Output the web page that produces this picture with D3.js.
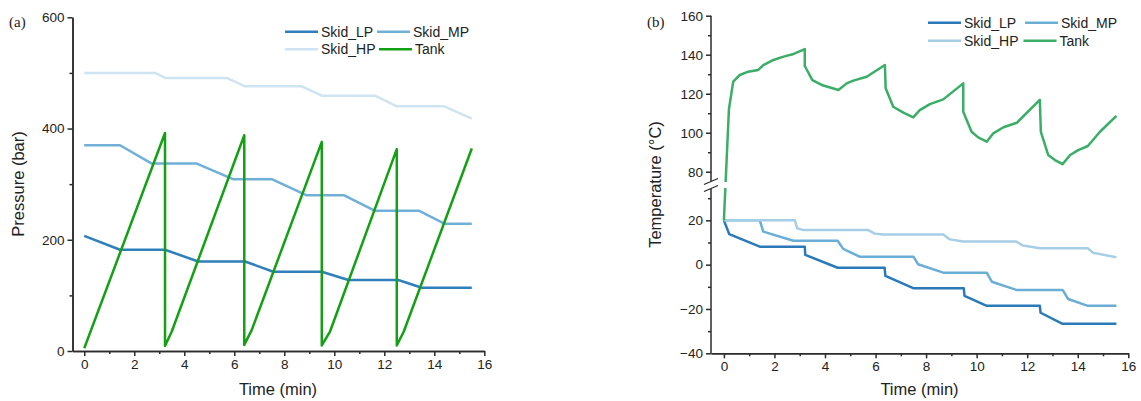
<!DOCTYPE html>
<html><head><meta charset="utf-8">
<script src="https://cdn.jsdelivr.net/npm/d3@7"></script>
<style>
html,body{margin:0;padding:0;background:#fff;}
svg{display:block;font-family:"Liberation Sans",Arial,sans-serif;}
</style></head>
<body>
<svg id="chart" width="1141" height="401"></svg>
<script>
// ---------- Data: panel (a) pressure ----------
const seriesNames = ["Skid_LP", "Skid_MP", "Skid_HP", "Tank"];
const xTicks = [0, 2, 4, 6, 8, 10, 12, 14, 16];
const xMinorTicks = [1, 3, 5, 7, 9, 11, 13, 15];
const pTicks = [0, 200, 400, 600];
const pMinorTicks = [100, 300, 500];
const tTicksUpper = [80, 100, 120, 140, 160];
const tTicksLower = [-40, -20, 0, 20];
const tMinorTicks = [90, 110, 130, 150, -30, -10, 10, 30];

const pLP = [[0,207],[1.43,182],[3.23,182],[4.56,161],[6.43,161],[7.56,142.5],[9.5,142.5],[10.56,127.6],[12.56,127.6],[13.5,113.8],[15.5,113.8]];
const pMP = [[0,370],[1.43,370],[2.7,337],[4.5,337],[5.95,309],[7.5,309],[8.9,280],[10.4,280],[11.63,252],[13.4,252],[14.4,229],[15.5,229]];
const pHP = [[0,500],[2.83,500],[3.24,491],[5.7,491],[6.43,476],[8.7,476],[9.5,459],[11.63,459],[12.5,440],[14.4,440],[15.5,418]];
const pTank = [[0,5],[3.23,392],[3.23,9],[3.5,35],[6.4,388],[6.4,11],[6.7,38],[9.5,376],[9.5,10],[9.83,35],[12.5,363],[12.5,10],[12.78,35],[15.5,364]];

// ---------- Data: panel (b) temperature ----------
const tLP = [[0,20],[0.21,13.8],[1.42,8.1],[3.2,8.1],[3.22,4.4],[4.5,-1.4],[6.36,-1.4],[6.39,-5.1],[7.49,-10.6],[9.49,-10.6],[9.52,-14.1],[10.4,-18.6],[12.5,-18.6],[12.53,-21.7],[13.4,-26.7],[15.53,-26.7]];
const tMP = [[0,20],[1.42,20],[1.56,14.9],[2.75,10.8],[4.5,10.8],[4.72,7.1],[5.37,3.6],[7.5,3.6],[7.68,0.2],[8.68,-3.6],[10.4,-3.6],[10.6,-7.7],[11.57,-11.4],[13.4,-11.4],[13.62,-15.5],[14.4,-18.6],[15.53,-18.6]];
const tHP = [[0,20],[2.81,20],[2.9,16.4],[3.14,15.6],[5.71,15.6],[5.97,14.0],[6.3,13.6],[8.68,13.6],[8.94,11.4],[9.47,10.4],[11.57,10.4],[11.83,8.6],[12.5,7.4],[14.4,7.4],[14.6,5.4],[15.53,3.3]];
const tTank = [[0,20],[0.2,112.2],[0.37,126.2],[0.63,129.6],[0.96,131.3],[1.36,132.2],[1.56,134.7],[1.96,137.3],[2.36,139.0],[2.76,140.4],[3.2,142.9],[3.2,134.2],[3.5,127.0],[3.87,124.5],[4.53,121.9],[4.86,125.3],[5.12,126.7],[5.65,128.7],[6.37,134.7],[6.4,122.8],[6.7,113.3],[7.1,110.3],[7.49,107.9],[7.75,111.6],[8.15,114.7],[8.68,117.1],[9.47,125.3],[9.47,110.8],[9.8,100.5],[10.06,97.6],[10.4,95.4],[10.66,99.7],[11.06,102.8],[11.59,105.1],[12.5,116.8],[12.54,100.5],[12.83,88.6],[13.1,86],[13.4,83.9],[13.7,88.6],[14.02,91.1],[14.4,93.2],[14.88,100.5],[15.53,108.6]];

const colorsA = {Skid_LP:"#2f7fbd", Skid_MP:"#70b0d8", Skid_HP:"#cfe4f2", Tank:"#14a014"};
const colorsB = {Skid_LP:"#2a79b9", Skid_MP:"#6aaed6", Skid_HP:"#a6cee6", Tank:"#3aae66"};

const svg = d3.select("#chart");
const AX = "#2b2b2b";

function styleAxis(g){
  g.select(".domain").attr("stroke", AX).attr("stroke-width", 1.5);
  g.selectAll(".tick line").attr("stroke", AX).attr("stroke-width", 1.5);
  g.selectAll(".tick text").attr("fill", "#222").style("font-size","13.5px").style("font-family","'Liberation Sans',Arial,sans-serif");
}

// ================= Panel (a) =================
const xA = d3.scaleLinear().domain([-0.47, 16]).range([72.5, 484.3]);
const yA = d3.scaleLinear().domain([0, 600]).range([351, 17.3]);

const gA = svg.append("g");
gA.append("g").attr("transform","translate(0,351)")
  .call(d3.axisBottom(xA).tickValues(xMinorTicks).tickSize(3).tickFormat("").tickSizeOuter(0)).call(styleAxis);
gA.append("g").attr("transform","translate(0,351)")
  .call(d3.axisBottom(xA).tickValues(xTicks).tickSize(5).tickPadding(3).tickSizeOuter(0)).call(styleAxis);
gA.append("g").attr("transform","translate(72.5,0)")
  .call(d3.axisLeft(yA).tickValues(pMinorTicks).tickSize(3).tickFormat("").tickSizeOuter(0)).call(styleAxis);
gA.append("g").attr("transform","translate(72.5,0)")
  .call(d3.axisLeft(yA).tickValues(pTicks).tickSize(5).tickPadding(3).tickSizeOuter(0)).call(styleAxis);

const lineA = d3.line().x(d=>xA(d[0])).y(d=>yA(d[1]));
const dataA = {Skid_LP:pLP, Skid_MP:pMP, Skid_HP:pHP, Tank:pTank};
["Skid_LP","Skid_MP","Skid_HP","Tank"].forEach(k=>{
  gA.append("path").datum(dataA[k]).attr("d", lineA).attr("fill","none")
    .attr("stroke", colorsA[k]).attr("stroke-width", 2.5).attr("stroke-linejoin","round");
});

gA.append("text").attr("x", 278).attr("y", 395).attr("text-anchor","middle")
  .style("font-size","16.5px").attr("fill","#222").text("Time (min)");
gA.append("text").attr("transform","translate(24,184) rotate(-90)").attr("text-anchor","middle")
  .style("font-size","16.5px").attr("fill","#222").text("Pressure (bar)");
gA.append("text").attr("x", 9).attr("y", 27).style("font-family","'Liberation Serif','Times New Roman',serif")
  .style("font-size","15px").attr("fill","#222").text("(a)");

// legend a
const legA = [
  {k:"Skid_LP", x:285, y:31.7}, {k:"Skid_MP", x:377, y:31.7},
  {k:"Skid_HP", x:285, y:49.3}, {k:"Tank", x:379, y:49.3}
];
legA.forEach(l=>{
  gA.append("line").attr("x1", l.x).attr("x2", l.x+33).attr("y1", l.y).attr("y2", l.y)
    .attr("stroke", colorsA[l.k]).attr("stroke-width", 2.5);
  gA.append("text").attr("x", l.x+36).attr("y", l.y+5).style("font-size","14px").attr("fill","#222").text(l.k);
});

// ================= Panel (b) =================
const xB = d3.scaleLinear().domain([-0.51, 16]).range([711, 1128.3]);
// broken y-axis: lower segment [-40,34], upper segment [75,160]
const yB = d3.scaleLinear().domain([-40, 34, 75, 160]).range([353.3, 189.3, 181.5, 15.7]);
const yBup = d3.scaleLinear().domain([75,160]).range([181.5, 15.7]);
const yBlo = d3.scaleLinear().domain([-40,34]).range([353.3, 189.3]);

const gB = svg.append("g");
gB.append("g").attr("transform","translate(0,353.3)")
  .call(d3.axisBottom(xB).tickValues(xMinorTicks).tickSize(3).tickFormat("").tickSizeOuter(0)).call(styleAxis);
gB.append("g").attr("transform","translate(0,353.3)")
  .call(d3.axisBottom(xB).tickValues(xTicks).tickSize(5).tickPadding(3).tickSizeOuter(0)).call(styleAxis);

// upper y axis segment
const yUp = gB.append("g").attr("transform","translate(711,0)");
yUp.call(d3.axisLeft(yBup).tickValues(tMinorTicks.filter(v=>v>=75)).tickSize(3).tickFormat("").tickSizeOuter(0)).call(styleAxis);
const yUp2 = gB.append("g").attr("transform","translate(711,0)");
yUp2.call(d3.axisLeft(yBup).tickValues(tTicksUpper).tickSize(5).tickPadding(3).tickSizeOuter(0)).call(styleAxis);
yUp.select(".domain").remove(); yUp2.select(".domain").remove();
const yLo = gB.append("g").attr("transform","translate(711,0)");
yLo.call(d3.axisLeft(yBlo).tickValues(tMinorTicks.filter(v=>v<=34)).tickSize(3).tickFormat("").tickSizeOuter(0)).call(styleAxis);
const yLo2 = gB.append("g").attr("transform","translate(711,0)");
yLo2.call(d3.axisLeft(yBlo).tickValues(tTicksLower).tickSize(5).tickPadding(3).tickSizeOuter(0)).call(styleAxis);
yLo.select(".domain").remove(); yLo2.select(".domain").remove();
// axis line segments
gB.append("line").attr("x1",711).attr("x2",711).attr("y1",yBup(160)).attr("y2",181).attr("stroke",AX).attr("stroke-width",1.5);
gB.append("line").attr("x1",711).attr("x2",711).attr("y1",189).attr("y2",yBlo(-40)).attr("stroke",AX).attr("stroke-width",1.5);
// break marks
[181.5, 188.5].forEach(cy=>{
  gB.append("line").attr("x1",704).attr("y1",cy+3).attr("x2",718).attr("y2",cy-3)
    .attr("stroke",AX).attr("stroke-width",1.3);
});

// clip to remove the break band
const defs = svg.append("defs");
const cp = defs.append("clipPath").attr("id","brk");
cp.append("rect").attr("x",700).attr("y",0).attr("width",441).attr("height",182);
cp.append("rect").attr("x",700).attr("y",188).attr("width",441).attr("height",213);

const lineB = d3.line().x(d=>xB(d[0])).y(d=>yB(d[1]));
const dataB = {Skid_LP:tLP, Skid_MP:tMP, Skid_HP:tHP, Tank:tTank};
const gLines = gB.append("g").attr("clip-path","url(#brk)");
["Skid_LP","Skid_MP","Skid_HP","Tank"].forEach(k=>{
  gLines.append("path").datum(dataB[k]).attr("d", lineB).attr("fill","none")
    .attr("stroke", colorsB[k]).attr("stroke-width", 2.5).attr("stroke-linejoin","round");
});

gB.append("text").attr("x", 919.5).attr("y", 395).attr("text-anchor","middle")
  .style("font-size","16.5px").attr("fill","#222").text("Time (min)");
gB.append("text").attr("transform","translate(661,184.5) rotate(-90)").attr("text-anchor","middle")
  .style("font-size","16.5px").attr("fill","#222").text("Temperature (°C)");
gB.append("text").attr("x", 647).attr("y", 27).style("font-family","'Liberation Serif','Times New Roman',serif")
  .style("font-size","15px").attr("fill","#222").text("(b)");

const legB = [
  {k:"Skid_LP", x:928, y:22.7}, {k:"Skid_MP", x:1025, y:22.7},
  {k:"Skid_HP", x:928, y:40.7}, {k:"Tank", x:1023.5, y:40.7}
];
legB.forEach(l=>{
  gB.append("line").attr("x1", l.x).attr("x2", l.x+33).attr("y1", l.y).attr("y2", l.y)
    .attr("stroke", colorsB[l.k]).attr("stroke-width", 2.5);
  gB.append("text").attr("x", l.x+36).attr("y", l.y+5).style("font-size","14px").attr("fill","#222").text(l.k);
});
</script>
</body></html>
